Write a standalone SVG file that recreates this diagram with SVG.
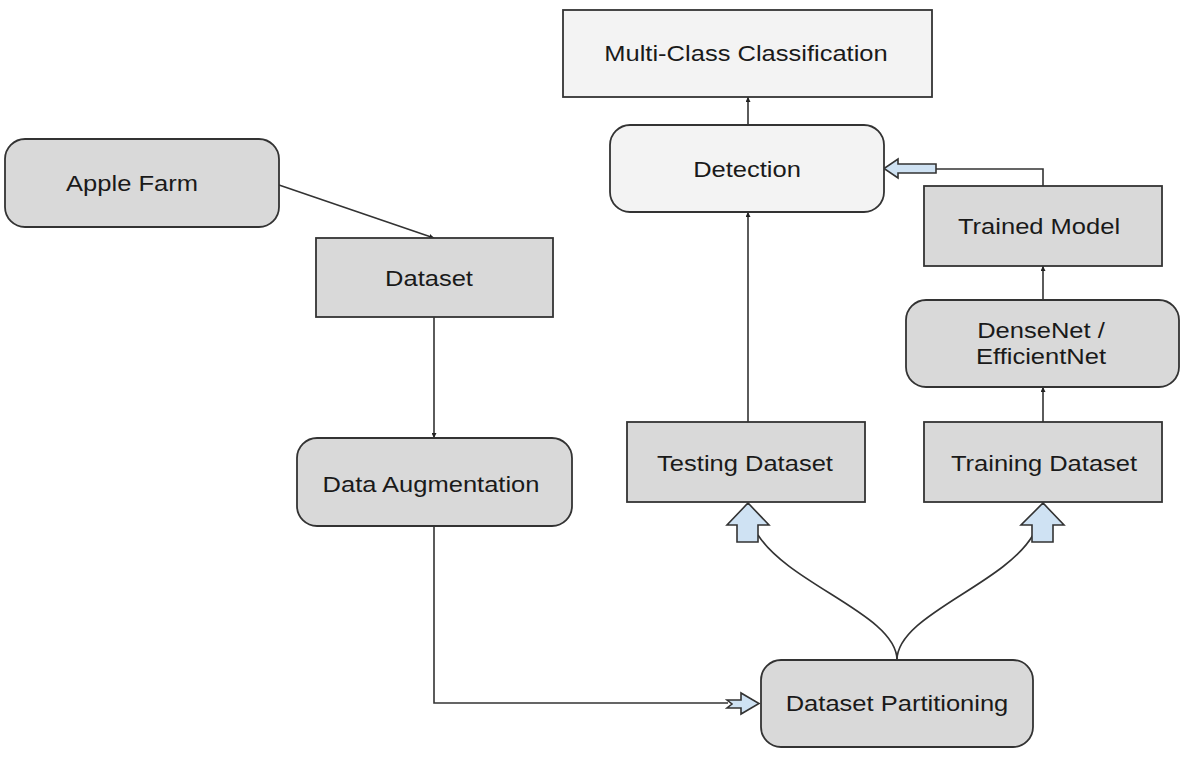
<svg xmlns="http://www.w3.org/2000/svg" width="1190" height="781" viewBox="0 0 1190 781">
<style>
.box{fill:#d9d9d9;stroke:#333;stroke-width:1.8}
.lbox{fill:#f3f3f3;stroke:#333;stroke-width:1.8}
.lbl{font-family:"Liberation Sans",Arial,sans-serif;font-size:22px;fill:#1a1a1a;text-anchor:middle}
.ln{fill:none;stroke:#333;stroke-width:1.6}
.blk{fill:#cfe2f3;stroke:#333;stroke-width:1.6;stroke-linejoin:miter}
</style>
<defs>
<marker id="ah" viewBox="0 0 10 10" refX="10" refY="5" markerWidth="5" markerHeight="5" orient="auto" markerUnits="userSpaceOnUse">
<path d="M0,0 L10,5 L0,10 z" fill="#222"/>
</marker>
</defs>
<rect width="1190" height="781" fill="#fff"/>

<g id="connectors">
<line class="ln" x1="279" y1="185" x2="434" y2="238" marker-end="url(#ah)"/>
<line class="ln" x1="434" y1="317" x2="434" y2="438" marker-end="url(#ah)"/>
<polyline class="ln" points="434,526 434,703 728,703"/>
<path class="blk" d="M727,700 L741,700 L741,693 L759,703.5 L741,714 L741,708 L727,708 L732,704 Z"/>
<path class="ln" d="M897,660 C897,615 790,585 758,535"/>
<path class="ln" d="M897,660 C897,615 1004,585 1033,535"/>
<path class="blk" d="M737,542 L737,525 L727,525 L748,503 L769,525 L758,525 L758,542 Z"/>
<path class="blk" d="M1032,542 L1032,525 L1021,525 L1043,503 L1064,525 L1053,525 L1053,542 Z"/>
<line class="ln" x1="748" y1="422" x2="748" y2="212" marker-end="url(#ah)"/>
<line class="ln" x1="1043" y1="422" x2="1043" y2="387" marker-end="url(#ah)"/>
<line class="ln" x1="1043" y1="300" x2="1043" y2="266" marker-end="url(#ah)"/>
<polyline class="ln" points="1043,186 1043,169 936,169"/>
<path class="blk" d="M936,164 L898,164 L898,159 L884,168.5 L898,178 L898,173 L936,173 Z"/>
<line class="ln" x1="748" y1="125" x2="748" y2="97" marker-end="url(#ah)"/>
</g>

<g id="multiclass">
<rect class="lbox" x="563" y="10" width="369" height="87"/>
<text class="lbl" transform="translate(746,61) scale(1.16,1)">Multi-Class Classification</text>
</g>
<g id="apple-farm">
<rect class="box" x="5" y="139" width="274" height="88" rx="20"/>
<text class="lbl" transform="translate(132,191) scale(1.16,1)">Apple Farm</text>
</g>
<g id="dataset">
<rect class="box" x="316" y="238" width="237" height="79"/>
<text class="lbl" transform="translate(429,286) scale(1.16,1)">Dataset</text>
</g>
<g id="data-augmentation">
<rect class="box" x="297" y="438" width="275" height="88" rx="20"/>
<text class="lbl" transform="translate(431,492) scale(1.16,1)">Data Augmentation</text>
</g>
<g id="detection">
<rect class="lbox" x="610" y="125" width="274" height="87" rx="20"/>
<text class="lbl" transform="translate(747,177) scale(1.16,1)">Detection</text>
</g>
<g id="trained-model">
<rect class="box" x="924" y="186" width="238" height="80"/>
<text class="lbl" transform="translate(1039,234) scale(1.16,1)">Trained Model</text>
</g>
<g id="densenet">
<rect class="box" x="906" y="300" width="273" height="87" rx="20"/>
<text class="lbl" transform="translate(1041,338) scale(1.16,1)">DenseNet /</text>
<text class="lbl" transform="translate(1041,364) scale(1.16,1)">EfficientNet</text>
</g>
<g id="testing-dataset">
<rect class="box" x="627" y="422" width="238" height="80"/>
<text class="lbl" transform="translate(745,471) scale(1.16,1)">Testing Dataset</text>
</g>
<g id="training-dataset">
<rect class="box" x="924" y="422" width="238" height="80"/>
<text class="lbl" transform="translate(1044,471) scale(1.16,1)">Training Dataset</text>
</g>
<g id="dataset-partitioning">
<rect class="box" x="761" y="660" width="272" height="87" rx="20"/>
<text class="lbl" transform="translate(897,711) scale(1.16,1)">Dataset Partitioning</text>
</g>
</svg>
